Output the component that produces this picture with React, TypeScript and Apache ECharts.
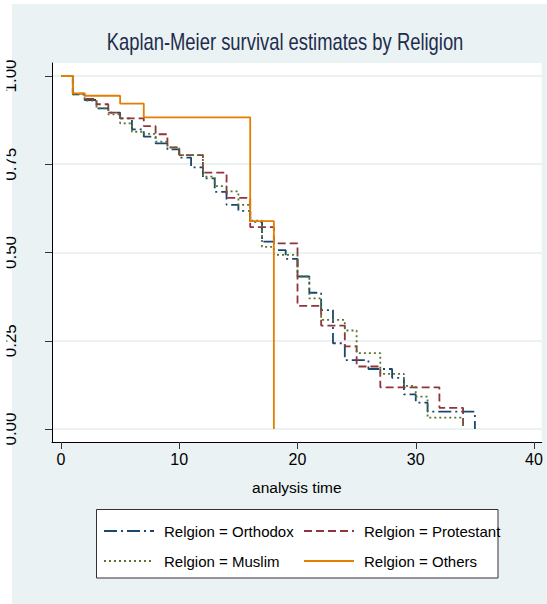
import React, { useEffect, useRef } from "react";
import * as echarts from "echarts";

const FONT = "'Liberation Sans', Arial, sans-serif";

const titleText = "Kaplan-Meier survival estimates by Religion";
const xAxisName = "analysis time";
const xTicks = [0, 10, 20, 30, 40];
const yTicks = [0, 0.25, 0.5, 0.75, 1];

const seriesNames = [
  "Relgion = Orthodox",
  "Relgion = Protestant",
  "Relgion = Muslim",
  "Relgion = Others",
];

const orthodoxTime = [0, 1, 2, 3, 4, 5, 6, 7, 8, 9, 10, 11, 12, 13, 14, 15, 16, 17, 18, 19, 20, 21, 22, 23, 24, 26, 28, 29, 30, 31, 35];
const orthodoxSurv = [1, 0.948, 0.932, 0.908, 0.896, 0.88, 0.849, 0.828, 0.809, 0.792, 0.769, 0.741, 0.71, 0.672, 0.635, 0.618, 0.587, 0.531, 0.507, 0.482, 0.432, 0.386, 0.337, 0.243, 0.195, 0.17, 0.145, 0.098, 0.075, 0.049, 0];

const protestantTime = [0, 1, 2, 3, 4, 5, 7, 8, 9, 10, 12, 14, 16, 18, 20, 22, 24, 25, 27, 32, 34];
const protestantSurv = [1, 0.95, 0.935, 0.92, 0.896, 0.88, 0.858, 0.835, 0.798, 0.776, 0.726, 0.655, 0.572, 0.526, 0.349, 0.293, 0.234, 0.177, 0.118, 0.06, 0];

const muslimTime = [0, 1, 2, 3, 4, 5, 6, 7, 8, 9, 10, 12, 13, 14, 15, 16, 17, 18, 20, 21, 22, 24, 25, 27, 29, 30, 31, 34];
const muslimSurv = [1, 0.948, 0.93, 0.908, 0.891, 0.866, 0.842, 0.836, 0.814, 0.798, 0.776, 0.715, 0.688, 0.673, 0.635, 0.59, 0.516, 0.493, 0.432, 0.37, 0.309, 0.279, 0.215, 0.156, 0.122, 0.092, 0.032, 0];

const othersTime = [0, 1, 2, 5, 7, 16, 18];
const othersSurv = [1, 0.951, 0.944, 0.922, 0.883, 0.589, 0];

const colors = ["#1a476f", "#90353b", "#55752f", "#e37e00"];
const dashes: any[] = [[13, 4, 2, 4], [8, 4], [2, 3], "solid"];

function pairs(t: number[], s: number[]) {
  return t.map((v, i) => [v, s[i]]);
}

export default function App() {
  const ref = useRef<HTMLDivElement>(null);
  useEffect(() => {
    document.body.style.margin = "0";
    if (!ref.current) return;
    const chart = echarts.init(ref.current, undefined, { renderer: "svg" });
    const datasets = [
      pairs(orthodoxTime, orthodoxSurv),
      pairs(protestantTime, protestantSurv),
      pairs(muslimTime, muslimSurv),
      pairs(othersTime, othersSurv),
    ];
    const legendCommon = {
      orient: "vertical",
      padding: 0,
      itemWidth: 50,
      itemHeight: 14,
      itemGap: 13,
      itemStyle: { color: "rgba(0,0,0,0)", borderColor: "rgba(0,0,0,0)", borderWidth: 0, opacity: 0 },
      textStyle: { fontFamily: FONT, fontSize: 15, color: "#000", lineHeight: 17, padding: [0, 0, 0, 5] },
      selectedMode: false,
    };
    chart.setOption({
      animation: false,
      backgroundColor: "transparent",
      grid: {
        left: 52,
        right: 5.3,
        top: 63,
        bottom: 162,
        show: true,
        backgroundColor: "#ffffff",
        borderWidth: 0,
      },
      xAxis: {
        type: "value",
        min: -0.761,
        max: 40.65,
        name: xAxisName,
        nameLocation: "middle",
        nameGap: 37,
        nameTextStyle: { fontFamily: FONT, fontSize: 15.5, color: "#000" },
        axisLine: { show: true, onZero: false, lineStyle: { color: "#000", width: 1 } },
        axisTick: { show: true, length: 7, customValues: xTicks, lineStyle: { color: "#333" } },
        axisLabel: {
          customValues: xTicks,
          margin: 9,
          fontFamily: FONT,
          fontSize: 16,
          color: "#000",
        },
        splitLine: { show: false },
      },
      yAxis: {
        type: "value",
        min: -0.0368,
        max: 1.0368,
        axisLine: { show: true, onZero: false, lineStyle: { color: "#000", width: 1 } },
        axisTick: { show: true, length: 7, customValues: yTicks, lineStyle: { color: "#333" } },
        axisLabel: {
          customValues: yTicks,
          rotate: 90,
          margin: 33,
          fontFamily: FONT,
          fontSize: 17,
          color: "#000",
          formatter: (v: number) => v.toFixed(2),
        },
        splitLine: { show: true, lineStyle: { color: "#e6eef0", width: 1.5 } },
      },
      legend: [
        { ...legendCommon, left: 103, top: 522.5, data: [seriesNames[0], seriesNames[2]] },
        { ...legendCommon, left: 303, top: 522.5, data: [seriesNames[1], seriesNames[3]] },
      ],
      graphic: [
        {
          type: "rect",
          z: -1,
          shape: { x: 96.5, y: 509.5, width: 401.5, height: 68.5 },
          style: { fill: "#ffffff", stroke: "#333333", lineWidth: 1 },
        },
        {
          type: "rect",
          z: 100,
          shape: { x: 0, y: 0, width: 6.5, height: 604 },
          style: { fill: "#ffffff" },
        },
        {
          type: "text",
          x: 285,
          y: 42,
          scaleX: 0.8,
          style: {
            text: titleText,
            fontFamily: FONT,
            fontSize: 23,
            fill: "#1e2d4d",
            textAlign: "center",
            textVerticalAlign: "middle",
          },
        },
      ],
      series: datasets.map((d, i) => ({
        name: seriesNames[i],
        type: "line",
        step: "end",
        data: d,
        symbol: "none",
        showSymbol: false,
        color: colors[i],
        lineStyle: { color: colors[i], width: 1.8, type: dashes[i] },
      })),
    });
    return () => chart.dispose();
  }, []);
  return (
    <div style={{ position: "relative", width: 547, height: 604, background: "#ffffff" }}>
      <div style={{ position: "absolute", left: 12, top: 4, right: 0, bottom: 0, background: "#eaf2f3" }} />
      <div ref={ref} style={{ position: "absolute", left: 0, top: 0, width: 547, height: 604 }} />
    </div>
  );
}
